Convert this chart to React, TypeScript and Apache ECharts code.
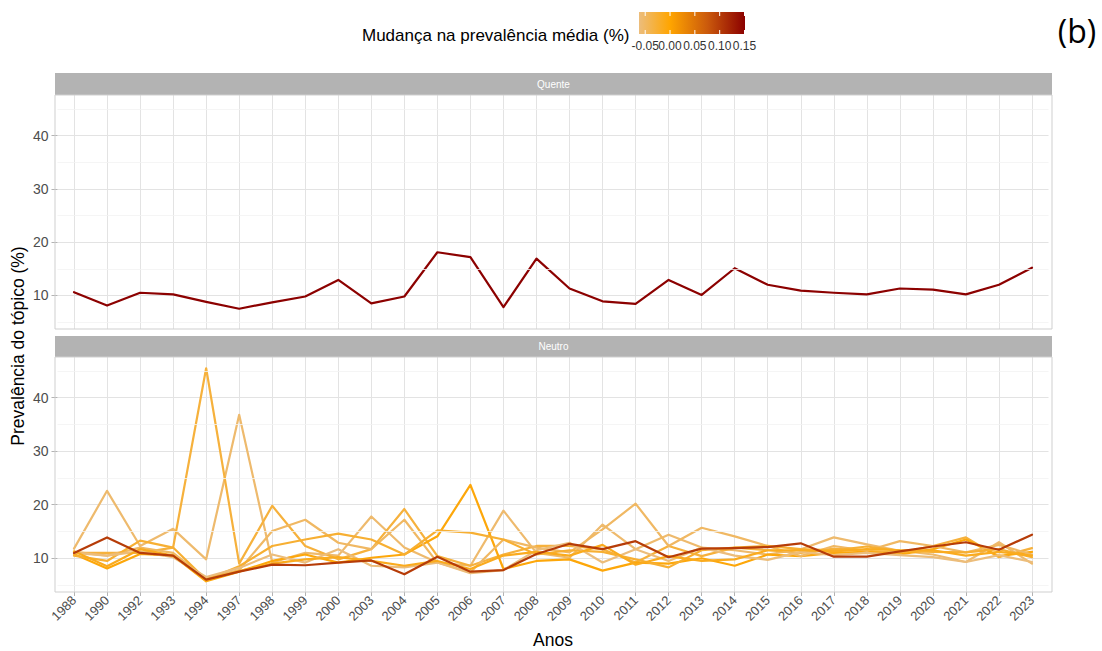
import React, { useEffect, useRef } from "react";
import * as echarts from "echarts";

const years = [
  "1988", "1990", "1992", "1993", "1994", "1997", "1998", "1999", "2000", "2003",
  "2004", "2005", "2006", "2007", "2008", "2009", "2010", "2011", "2012", "2013",
  "2014", "2015", "2016", "2017", "2018", "2019", "2020", "2021", "2022", "2023",
];

const quenteChange = 0.15;
const quente = [
  10.6, 8.1, 10.5, 10.2, 8.8, 7.5, 8.7, 9.8, 12.9, 8.5,
  9.8, 18.1, 17.2, 7.8, 16.9, 11.3, 8.9, 8.4, 12.9, 10.1,
  15.1, 12.0, 10.9, 10.5, 10.2, 11.3, 11.1, 10.2, 12.0, 15.2,
];

const neutroChanges = [-0.055, -0.03, -0.005, -0.05, -0.025, -0.062, -0.015, 0.1];
const neutroA = [
  11.8, 22.6, 12.3, 15.5, 9.8, 36.8, 9.2, 11.0, 10.5, 17.8,
  12.0, 9.2, 8.6, 18.9, 11.0, 10.1, 16.3, 11.7, 14.4, 12.0,
  11.5, 10.7, 11.7, 13.9, 12.6, 11.4, 10.7, 9.3, 13.0, 9.0,
];
const neutroB = [
  11.0, 11.0, 11.0, 12.0, 45.5, 9.0, 19.8, 12.3, 9.8, 11.7,
  19.2, 10.4, 8.6, 10.7, 12.3, 12.3, 11.7, 9.2, 12.3, 10.4,
  12.0, 11.5, 11.0, 11.8, 11.4, 11.0, 12.3, 13.9, 10.2, 11.9,
];
const neutroC = [
  10.8, 8.1, 10.8, 10.5, 5.7, 7.5, 9.5, 10.7, 9.2, 10.1,
  10.7, 14.1, 23.7, 8.0, 9.5, 9.8, 7.7, 9.2, 9.0, 10.0,
  8.6, 10.7, 10.4, 11.0, 11.2, 10.7, 11.7, 13.5, 10.4, 11.2,
];
const neutroD = [
  11.2, 10.5, 12.0, 11.0, 6.2, 7.8, 15.1, 17.2, 12.9, 11.7,
  17.2, 9.2, 7.4, 13.5, 12.0, 11.1, 15.4, 20.2, 12.3, 15.7,
  14.1, 12.3, 10.4, 12.3, 11.4, 13.2, 12.3, 11.1, 12.5, 10.7,
];
const neutroE = [
  10.5, 9.5, 13.3, 12.0, 6.0, 8.5, 12.3, 13.5, 14.6, 13.5,
  10.7, 15.2, 14.8, 13.5, 10.7, 11.5, 11.2, 9.8, 8.3, 11.5,
  12.0, 12.3, 11.7, 11.5, 12.2, 11.4, 11.2, 11.1, 11.7, 10.2,
];
const neutroF = [
  11.0, 10.5, 11.3, 10.2, 6.5, 8.2, 10.7, 9.2, 11.7, 8.6,
  8.3, 9.2, 7.2, 7.8, 11.5, 12.9, 9.2, 11.7, 9.5, 12.0,
  10.5, 9.7, 11.2, 10.6, 11.0, 10.6, 10.2, 9.3, 10.6, 9.3,
];
const neutroG = [
  11.3, 8.5, 11.7, 10.5, 5.9, 7.6, 9.0, 9.8, 10.2, 9.5,
  8.6, 9.5, 8.0, 10.5, 11.2, 10.5, 12.5, 8.8, 10.4, 9.5,
  9.8, 11.5, 11.5, 11.3, 11.7, 11.5, 11.5, 10.5, 11.2, 10.5,
];
const neutroDark = [
  11.0, 13.9, 11.0, 10.5, 6.0, 7.5, 8.8, 8.7, 9.2, 9.6,
  7.0, 10.3, 7.5, 7.8, 10.8, 12.7, 11.7, 13.2, 10.2, 11.8,
  11.9, 12.1, 12.8, 10.3, 10.3, 11.3, 12.2, 13.0, 11.6, 14.4,
];
const neutro = [neutroA, neutroB, neutroC, neutroD, neutroE, neutroF, neutroG, neutroDark];

const yMajorTicks = [10, 20, 30, 40];
const yMinorTicks = [5, 15, 25, 35, 45];
const yRange = [3.7, 47.6];
const legendTicks = [-0.05, 0, 0.05, 0.1, 0.15];
const legendRange = [-0.0625, 0.151];

const colourStops = [
  { v: -0.0625, c: "#ECBD7C" },
  { v: 0, c: "#FFA500" },
  { v: 0.075, c: "#CB5A0C" },
  { v: 0.151, c: "#8B0000" },
];

function hexToRgb(h: string) {
  const n = parseInt(h.slice(1), 16);
  return [(n >> 16) & 255, (n >> 8) & 255, n & 255];
}
function colourFor(v: number) {
  const s = colourStops;
  if (v <= s[0].v) return s[0].c;
  for (let i = 1; i < s.length; i++) {
    if (v <= s[i].v) {
      const t = (v - s[i - 1].v) / (s[i].v - s[i - 1].v);
      const a = hexToRgb(s[i - 1].c);
      const b = hexToRgb(s[i].c);
      const m = a.map((x, k) => Math.round(x + (b[k] - x) * t));
      return `rgb(${m[0]},${m[1]},${m[2]})`;
    }
  }
  return s[s.length - 1].c;
}

const FONT = "Liberation Sans, Arial, sans-serif";
const PANEL_L = 55;
const PANEL_W = 997;
const GRID_L = 57.5;
const GRID_W = 991;
const panels = [
  { top: 95, height: 234, stripTop: 73, stripH: 22, label: "Quente" },
  { top: 357, height: 235, stripTop: 336, stripH: 21, label: "Neutro" },
];
const BAR = { x: 639, y: 12, w: 106, h: 22 };

export default function App() {
  const ref = useRef<HTMLDivElement>(null);
  useEffect(() => {
    document.body.style.margin = "0";
    if (!ref.current) return;
    const chart = echarts.init(ref.current, null, { renderer: "svg" });

    const xAxisBase = (gi: number, showLabels: boolean) => ({
      type: "category",
      gridIndex: gi,
      data: years,
      boundaryGap: true,
      axisLine: { show: false },
      axisTick: {
        show: showLabels,
        alignWithLabel: true,
        length: 4,
        lineStyle: { color: "#B3B3B3" },
      },
      splitLine: { show: true, alignWithLabel: true, lineStyle: { color: "#E3E3E3", width: 1 } },
      axisLabel: {
        show: showLabels,
        rotate: 45,
        interval: 0,
        color: "#4D4D4D",
        fontSize: 13,
        fontFamily: FONT,
        margin: 6,
      },
    });
    const yAxisBase = (gi: number) => ({
      type: "value",
      gridIndex: gi,
      min: yRange[0],
      max: yRange[1],
      axisLine: { show: false },
      axisTick: {
        show: true,
        length: 6,
        customValues: yMajorTicks,
        lineStyle: { color: "#B3B3B3" },
      },
      axisLabel: {
        customValues: yMajorTicks,
        color: "#4D4D4D",
        fontSize: 14,
        fontFamily: FONT,
        margin: 9,
      },
      splitLine: { show: true, lineStyle: { color: "#E3E3E3", width: 1 } },
    });

    const minorSeries = (gi: number) => ({
      type: "line",
      xAxisIndex: gi,
      yAxisIndex: gi,
      data: [],
      z: 1,
      silent: true,
      markLine: {
        silent: true,
        symbol: ["none", "none"],
        label: { show: false },
        lineStyle: { color: "#F2F2F2", width: 0.8, type: "solid" },
        data: yMinorTicks.map((v) => ({ yAxis: v })),
      },
    });

    const lineSeries = (gi: number, data: number[], change: number) => ({
      type: "line",
      xAxisIndex: gi,
      yAxisIndex: gi,
      data,
      symbol: "none",
      z: 3,
      lineStyle: { color: colourFor(change), width: 2.2, join: "round", cap: "round" },
      itemStyle: { color: colourFor(change) },
    });

    const span = legendRange[1] - legendRange[0];
    const gradStops = colourStops.map((s) => ({
      offset: Math.min(1, Math.max(0, (s.v - legendRange[0]) / span)),
      color: s.c,
    }));
    const tickX = (t: number) => BAR.x + ((t - legendRange[0]) / span) * BAR.w;

    const graphics: any[] = [];
    panels.forEach((p) => {
      graphics.push({
        type: "rect",
        shape: { x: PANEL_L, y: p.stripTop, width: PANEL_W, height: p.stripH },
        style: { fill: "#B3B3B3" },
        z: 10,
      });
      graphics.push({
        type: "text",
        x: PANEL_L + PANEL_W / 2,
        y: p.stripTop + p.stripH / 2,
        style: {
          text: p.label,
          fill: "#FFFFFF",
          fontSize: 10,
          fontFamily: FONT,
          align: "center",
          verticalAlign: "middle",
        },
        z: 11,
      });
      graphics.push({
        type: "rect",
        shape: { x: PANEL_L, y: p.top, width: PANEL_W, height: p.height },
        style: { fill: "none", stroke: "#CFCFCF", lineWidth: 1 },
        z: 10,
        silent: true,
      });
    });

    graphics.push({
      type: "text",
      x: 362,
      y: 35,
      style: {
        text: "Mudança na prevalência média (%)",
        fill: "#000000",
        fontSize: 17,
        fontFamily: FONT,
        align: "left",
        verticalAlign: "middle",
      },
    });
    graphics.push({
      type: "rect",
      shape: { x: BAR.x, y: BAR.y, width: BAR.w, height: BAR.h },
      style: {
        fill: new echarts.graphic.LinearGradient(0, 0, 1, 0, gradStops),
      },
    });
    legendTicks.forEach((t) => {
      const x = tickX(t);
      graphics.push({
        type: "line",
        shape: { x1: x, y1: BAR.y, x2: x, y2: BAR.y + 4 },
        style: { stroke: "#FFFFFF", lineWidth: 1 },
        z: 5,
      });
      graphics.push({
        type: "line",
        shape: { x1: x, y1: BAR.y + BAR.h - 4, x2: x, y2: BAR.y + BAR.h },
        style: { stroke: "#FFFFFF", lineWidth: 1 },
        z: 5,
      });
      graphics.push({
        type: "text",
        x,
        y: 46,
        style: {
          text: t.toFixed(2),
          fill: "#333333",
          fontSize: 12,
          fontFamily: FONT,
          align: "center",
          verticalAlign: "middle",
        },
      });
    });
    graphics.push({
      type: "text",
      x: 1077,
      y: 30,
      style: {
        text: "(b)",
        fill: "#000000",
        fontSize: 32,
        fontFamily: "Open Sans, Liberation Sans, sans-serif",
        align: "center",
        verticalAlign: "middle",
      },
    });
    graphics.push({
      type: "text",
      x: 18,
      y: 346,
      rotation: Math.PI / 2,
      style: {
        text: "Prevalência do tópico (%)",
        fill: "#000000",
        fontSize: 17.5,
        fontFamily: FONT,
        align: "center",
        verticalAlign: "middle",
      },
    });
    graphics.push({
      type: "text",
      x: 553,
      y: 640,
      style: {
        text: "Anos",
        fill: "#000000",
        fontSize: 17.5,
        fontFamily: FONT,
        align: "center",
        verticalAlign: "middle",
      },
    });

    chart.setOption({
      animation: false,
      backgroundColor: "#FFFFFF",
      grid: panels.map((p) => ({
        left: GRID_L,
        width: GRID_W,
        top: p.top,
        height: p.height,
        containLabel: false,
      })),
      xAxis: [xAxisBase(0, false), xAxisBase(1, true)],
      yAxis: [yAxisBase(0), yAxisBase(1)],
      series: [
        minorSeries(0),
        minorSeries(1),
        lineSeries(0, quente, quenteChange),
        ...neutro.map((d, i) => lineSeries(1, d, neutroChanges[i])),
      ],
      graphic: graphics,
    });
    return () => chart.dispose();
  }, []);
  return <div ref={ref} style={{ width: 1102, height: 651 }} />;
}
